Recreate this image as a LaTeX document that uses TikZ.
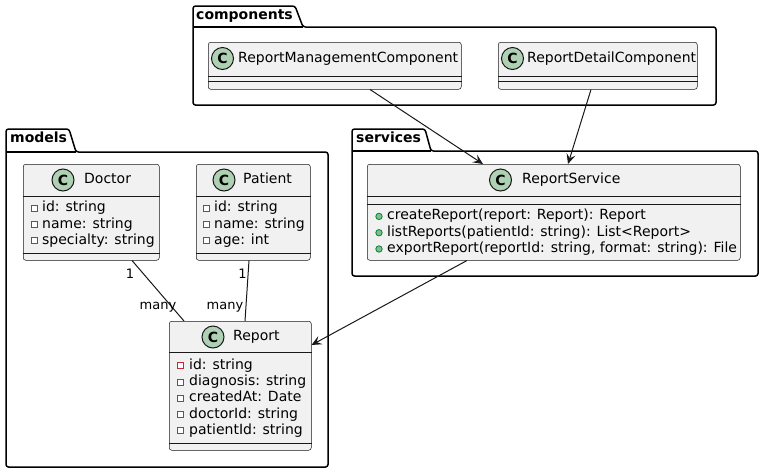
\documentclass[tikz,border=0pt]{standalone}
\usepackage{fontspec}
\setmainfont{DejaVu Sans}
\usetikzlibrary{arrows.meta,calc}
\definecolor{clsfill}{HTML}{F1F1F1}
\definecolor{clsline}{HTML}{181818}
\definecolor{iconfill}{HTML}{ADD1B2}
\definecolor{privred}{HTML}{C82930}
\definecolor{pubfill}{HTML}{84BE84}
\definecolor{publine}{HTML}{038048}
\tikzset{
 classbox/.style={draw=clsline, fill=clsfill, line width=0.5pt, rounded corners=2.5pt, inner sep=0pt, anchor=north west},
 sepline/.style={draw=clsline, line width=0.5pt},
 cicon/.style={circle, draw=clsline, fill=iconfill, line width=1pt, minimum size=22pt, inner sep=0pt, font=\fontsize{14}{14}\selectfont\bfseries},
 cname/.style={anchor=mid west, inner sep=0pt, font=\fontsize{14}{16}\selectfont},
 member/.style={anchor=mid west, inner sep=0pt, font=\fontsize{14}{16}\selectfont},
 privsq/.style={draw=privred, fill=white, line width=0.9pt},
 pubicon/.style={circle, draw=publine, fill=pubfill, line width=0.8pt, minimum size=6.4pt, inner sep=0pt, yshift=0.8pt},
 pkg/.style={draw=black, line width=1.5pt, fill=white, rounded corners=2.5pt},
 pkgname/.style={anchor=mid west, inner sep=0pt, font=\fontsize{14}{16}\selectfont\bfseries},
 dep/.style={draw=clsline, line width=1pt, -{Stealth[length=10pt,width=9pt,inset=4pt]}},
 assoc/.style={draw=clsline, line width=1pt},
 card/.style={inner sep=0pt, anchor=mid, font=\fontsize{13}{13}\selectfont},
}
% private-member square: centre (x,y) in picture units
\newcommand\privmark[2]{\draw[privsq] ($(#1,#2)+(-3pt,-2.2pt)$) rectangle ++(6pt,6pt);}
\begin{document}
\begin{tikzpicture}[x=1pt,y=-1pt]
\useasboundingbox (0,0) rectangle (763,472);
% ---------- packages ----------
\draw[pkg] (193,6) -- (295,6) -- (303,27) -- (716,27) -- (716,105) -- (193,105) -- cycle;
\draw[pkg] (193,27) -- (303,27);
\node[pkgname] (pcomp) at (196,17) {components};

\draw[pkg] (6,129) -- (69,129) -- (76,152) -- (328,152) -- (328,467) -- (6,467) -- cycle;
\draw[pkg] (6,152) -- (76,152);
\node[pkgname] (pmod) at (10,140) {models};

\draw[pkg] (352,129) -- (425,129) -- (431,151) -- (758,151) -- (758,276) -- (352,276) -- cycle;
\draw[pkg] (352,151) -- (431,151);
\node[pkgname] (psvc) at (356,140) {services};

% ---------- ReportManagementComponent ----------
\node[classbox, minimum width=253pt, minimum height=47pt] (rmc) at (208,42) {};
\draw[sepline] (rmc.west |- 0,76) -- (rmc.east |- 0,76);
\draw[sepline] (rmc.west |- 0,81) -- (rmc.east |- 0,81);
\node[cicon] (rmcC) at (222.5,58.5) {C};
\node[cname] (rmcN) at (238,59.5) {ReportManagementComponent};

% ---------- ReportDetailComponent ----------
\node[classbox, minimum width=199pt, minimum height=47pt] (rdc) at (498,42) {};
\draw[sepline] (rdc.west |- 0,76) -- (rdc.east |- 0,76);
\draw[sepline] (rdc.west |- 0,81) -- (rdc.east |- 0,81);
\node[cicon] (rdcC) at (512.5,58.5) {C};
\node[cname] (rdcN) at (527,59.5) {ReportDetailComponent};

% ---------- Doctor ----------
\node[classbox, minimum width=136pt, minimum height=96pt] (doc) at (23,164) {};
\draw[sepline] (doc.west |- 0,196) -- (doc.east |- 0,196);
\draw[sepline] (doc.west |- 0,253) -- (doc.east |- 0,253);
\node[cicon] (docC) at (63,180) {C};
\node[cname] (docN) at (84,181) {Doctor};
\privmark{34}{209}
\node[member] (docA1) at (42,209) {id: string};
\privmark{34}{225.3}
\node[member] (docA2) at (42,225.3) {name: string};
\privmark{34}{241.6}
\node[member] (docA3) at (42,241.6) {specialty: string};

% ---------- Patient ----------
\node[classbox, minimum width=114pt, minimum height=96pt] (pat) at (196,164) {};
\draw[sepline] (pat.west |- 0,196) -- (pat.east |- 0,196);
\draw[sepline] (pat.west |- 0,253) -- (pat.east |- 0,253);
\node[cicon] (patC) at (224,180) {C};
\node[cname] (patN) at (243,181) {Patient};
\privmark{206}{209}
\node[member] (patA1) at (214,209) {id: string};
\privmark{206}{225.3}
\node[member] (patA2) at (214,225.3) {name: string};
\privmark{206}{241.6}
\node[member] (patA3) at (214,241.6) {age: int};

% ---------- Report ----------
\node[classbox, minimum width=142pt, minimum height=129pt] (rep) at (169,321) {};
\draw[sepline] (rep.west |- 0,352) -- (rep.east |- 0,352);
\draw[sepline] (rep.west |- 0,443) -- (rep.east |- 0,443);
\node[cicon] (repC) at (213,337) {C};
\node[cname] (repN) at (233,338) {Report};
\privmark{180}{366.5}
\node[member] (repA1) at (189,366.5) {id: string};
\privmark{180}{382.8}
\node[member] (repA2) at (189,382.8) {diagnosis: string};
\privmark{180}{399.1}
\node[member] (repA3) at (189,399.1) {createdAt: Date};
\privmark{180}{415.4}
\node[member] (repA4) at (189,415.4) {doctorId: string};
\privmark{180}{431.7}
\node[member] (repA5) at (189,431.7) {patientId: string};

% ---------- ReportService ----------
\node[classbox, minimum width=373pt, minimum height=96pt] (svc) at (367,164) {};
\draw[sepline] (svc.west |- 0,196) -- (svc.east |- 0,196);
\draw[sepline] (svc.west |- 0,204) -- (svc.east |- 0,204);
\node[cicon] (svcC) at (500.5,180) {C};
\node[cname] (svcN) at (522,181) {ReportService};
\node[pubicon] (svcI1) at (379,217.2) {};
\node[member] (svcM1) at (387,217.2) {createReport(report: Report): Report};
\node[pubicon] (svcI2) at (379,233.5) {};
\node[member] (svcM2) at (387,233.5) {listReports(patientId: string): List<Report>};
\node[pubicon] (svcI3) at (379,249.8) {};
\node[member] (svcM3) at (387,249.8) {exportReport(reportId: string, format: string): File};

% ---------- connectors ----------
\draw[dep] (rmc.south -| 370,0) -- (svc.north -| 483,0);
\draw[dep] (rdc.south -| 591,0) -- (svc.north -| 568,0);
\draw[dep] (svc.south -| 467,0) -- (rep.east |- 0,345);
\draw[assoc] (doc.south -| 132,0) -- (rep.north -| 184,0);
\draw[assoc] (pat.south -| 249,0) -- (rep.north -| 245,0);

% ---------- multiplicities ----------
\node[card] (c1) at (130,276) {1};
\node[card] (c2) at (158,306.5) {many};
\node[card] (c3) at (242.5,276) {1};
\node[card] (c4) at (225,306.5) {many};
\end{tikzpicture}
\end{document}
